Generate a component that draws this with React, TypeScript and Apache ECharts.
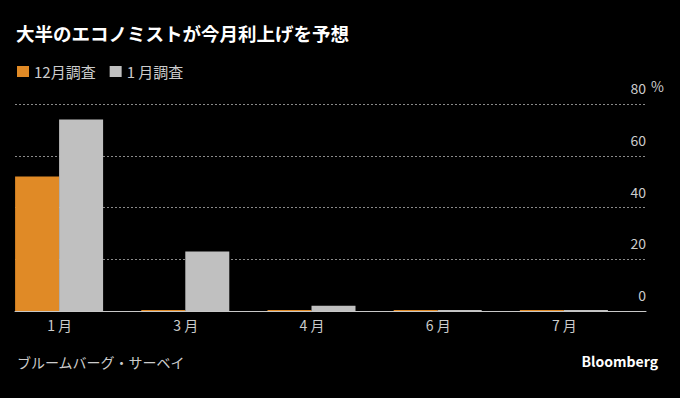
import React, { useEffect, useRef } from "react";
import * as echarts from "echarts";

const categories = ["1 月", "3 月", "4 月", "6 月", "7 月"];
const decSurvey = [52, 0, 0, 0, 0];
const janSurvey = [74, 23, 2, 0, 0];
const seriesNames = ["12月調査", "1 月調査"];
const yTicks = { min: 0, max: 80, interval: 20 };

const FONT = "'Noto Sans CJK JP', 'Noto Sans', sans-serif";

export default function App() {
  const ref = useRef<HTMLDivElement>(null);
  useEffect(() => {
    document.body.style.margin = "0";
    document.body.style.background = "#000";
    if (!ref.current) return;
    const chart = echarts.init(ref.current, null, { renderer: "svg" });
    chart.setOption({
      animation: false,
      backgroundColor: "#000000",
      textStyle: { fontFamily: FONT },
      title: {
        text: "大半のエコノミストが今月利上げを予想",
        left: 11,
        top: 19,
        textStyle: { color: "#ffffff", fontSize: 18.5, fontWeight: "bold", fontFamily: FONT },
      },
      legend: {
        data: seriesNames,
        left: 12,
        top: 59,
        icon: "rect",
        itemWidth: 12,
        itemHeight: 11,
        itemGap: 14,
        textStyle: { color: "#cccccc", fontSize: 15, fontFamily: FONT },
      },
      grid: { left: 15, right: 34, top: 104, bottom: 87 },
      xAxis: {
        type: "category",
        data: categories,
        axisLine: { lineStyle: { color: "#c8c8c8", width: 1 } },
        axisTick: { show: false },
        axisLabel: {
          color: "#cccccc",
          fontSize: 14,
          margin: 7,
          padding: [0, 37, 0, 0],
          fontFamily: FONT,
        },
      },
      yAxis: {
        type: "value",
        position: "right",
        min: yTicks.min,
        max: yTicks.max,
        interval: yTicks.interval,
        axisLine: { show: false },
        axisTick: { show: false },
        axisLabel: {
          inside: true,
          margin: 0,
          verticalAlign: "bottom",
          padding: [0, 0, 9, 0],
          color: "#cccccc",
          fontSize: 14,
          fontFamily: FONT,
        },
        splitLine: {
          show: true,
          lineStyle: { color: "#8a8a8a", type: [2, 2], width: 1 },
        },
      },
      graphic: [
        {
          type: "text",
          left: 651,
          top: 79,
          style: { text: "%", fill: "#cccccc", font: `14px ${FONT}` },
        },
        {
          type: "text",
          left: 17,
          top: 355,
          style: { text: "ブルームバーグ・サーベイ", fill: "#cccccc", font: `14px ${FONT}` },
        },
        {
          type: "text",
          right: 22,
          top: 354,
          style: { text: "Bloomberg", fill: "#ffffff", font: `bold 14px ${FONT}` },
        },
      ],
      series: [
        {
          name: seriesNames[0],
          type: "bar",
          data: decSurvey,
          barWidth: 44,
          barGap: "0%",
          barMinHeight: 1,
          itemStyle: { color: "#e08a26" },
        },
        {
          name: seriesNames[1],
          type: "bar",
          data: janSurvey,
          barWidth: 44,
          barGap: "0%",
          barMinHeight: 1,
          itemStyle: { color: "#c0c0c0" },
        },
        {
          name: "spacer",
          type: "bar",
          data: categories.map(() => "-"),
          barWidth: 38,
          barGap: "0%",
          itemStyle: { color: "transparent" },
          silent: true,
        },
      ],
    });
    return () => chart.dispose();
  }, []);
  return <div ref={ref} style={{ width: 680, height: 398 }} />;
}
